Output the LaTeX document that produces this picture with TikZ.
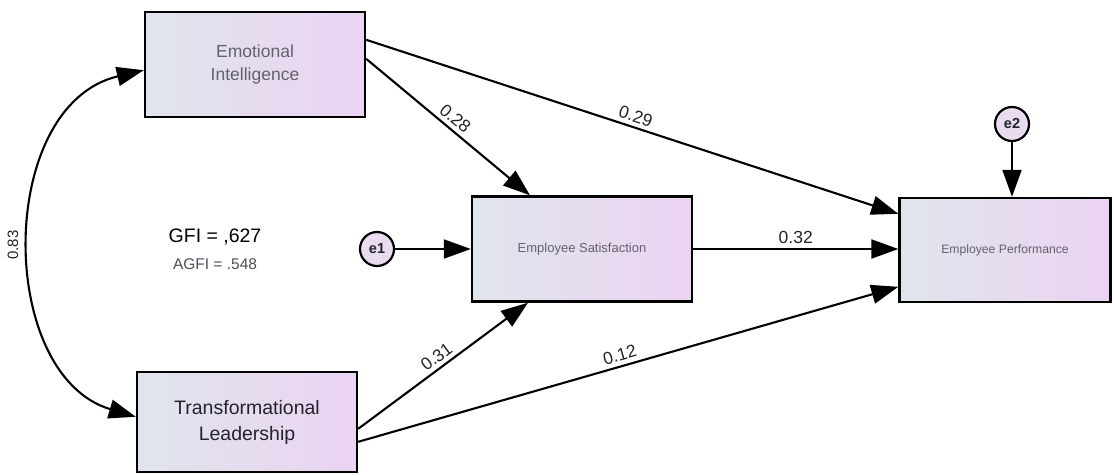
\documentclass[tikz,border=0pt]{standalone}
\usepackage{fontspec}
\setmainfont{Liberation Sans}
\usetikzlibrary{arrows.meta,calc}
\definecolor{boxleft}{HTML}{E0E5EC}
\definecolor{boxright}{HTML}{EBD3F2}
\definecolor{greytext}{HTML}{62626E}
\definecolor{darktext}{HTML}{23232E}
\definecolor{errfill}{HTML}{EADCF0}
\tikzset{
  varbox/.style={draw=black, line width=2.4pt, rectangle, left color=boxleft, right color=boxright, inner sep=0pt},
  errnode/.style={draw=black, line width=2.2pt, circle, fill=errfill, minimum size=34pt, inner sep=0pt, font=\fontsize{14.5}{16}\selectfont\bfseries, text=darktext},
  path/.style={line width=2.1pt, -{Triangle[length=27pt,width=19pt]}},
  coef/.style={font=\fontsize{17.5}{19}\selectfont, text=darktext, sloped, above, inner sep=4pt}
}
\begin{document}
\begin{tikzpicture}[x=1pt,y=-1pt]
\useasboundingbox (0,0) rectangle (1114,475);
\node[varbox, minimum width=220pt, minimum height=105pt, align=center, text=greytext,
      font=\fontsize{17.5}{23}\selectfont] (EI) at (255,64.5) {Emotional\\Intelligence};
\node[varbox, minimum width=220pt, minimum height=100pt, align=center, text=darktext,
      font=\fontsize{19.5}{26}\selectfont] (TL) at (247,422) {Transformational\\Leadership};
\node[varbox, minimum width=220pt, minimum height=105pt, text=greytext,
      font=\fontsize{13}{16}\selectfont] (ES) at (582,249) {Employee Satisfaction};
\node[varbox, minimum width=211pt, minimum height=104pt, text=greytext,
      font=\fontsize{12.2}{14}\selectfont] (EP) at (1005,250) {Employee Performance};
\node[errnode] (e1) at (377,249) {e1};
\node[errnode] (e2) at (1012,124) {e2};

\coordinate (EIa) at ($(EI.north east)+(0,29)$);
\coordinate (EIb) at ($(EI.north east)+(0,48)$);
\coordinate (TLa) at ($(TL.north east)+(0,58)$);
\coordinate (TLb) at ($(TL.north east)+(0,71)$);
\coordinate (EPa) at ($(EP.north west)+(0,17)$);
\coordinate (EPc) at ($(EP.north west)+(0,90)$);
\coordinate (ESt) at ($(ES.north)+(-52,0)$);
\coordinate (ESb) at ($(ES.south)+(-54,0)$);

\draw[path] (EIb) -- node[coef] {0.28} (ESt);
\draw[path] (EIa) -- node[coef] {0.29} (EPa);
\draw[path] (ES.east) -- node[coef] {0.32} (ES.east -| EP.west);
\draw[path] (TLa) -- node[coef] {0.31} (ESb);
\draw[path] (TLb) -- node[coef, pos=0.49] {0.12} (EPc);
\draw[path] (e1) -- (ES.west);
\draw[path] (e2) -- (e2 |- EP.north);

\coordinate (EIl) at ($(EI.south west)+(0,-48)$);
\coordinate (TLl) at ($(TL.north west)+(0,46)$);
\draw[line width=2.1pt, {Triangle[length=27pt,width=19pt]}-{Triangle[length=27pt,width=19pt]}]
  (EIl) .. controls (-4,105) and (-4,375) .. (TLl);
\node[rotate=90, font=\fontsize{15}{17}\selectfont, text=darktext] (corr) at (13,245) {0.83};

\node[font=\fontsize{19.5}{21}\selectfont, text=black] (gfi) at (215,237) {GFI = ,627};
\node[font=\fontsize{15.5}{17}\selectfont, text=greytext!80!black] (agfi) at (215,264) {AGFI = .548};
\end{tikzpicture}
\end{document}
